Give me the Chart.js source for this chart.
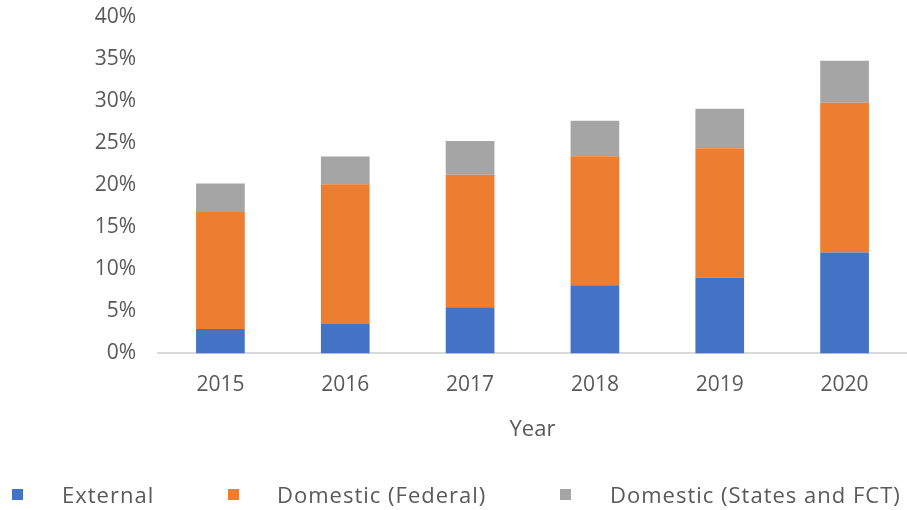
<!DOCTYPE html>
<html>
<head>
<meta charset="utf-8">
<script src="https://cdn.jsdelivr.net/npm/chart.js@4"></script>
<style>
  html, body { margin: 0; padding: 0; background: #fff; }
  #wrap { position: relative; width: 907px; height: 510px; }
  #legend { position: absolute; left: 0; top: 479px; width: 907px; height: 30px;
            font-family: "Open Sans", sans-serif; font-size: 22px; letter-spacing: 1px; color: #595959; }
  .item { position: absolute; top: 0; line-height: 30px; white-space: nowrap; }
  .box { position: absolute; top: 10px; width: 11px; height: 11px; }
</style>
</head>
<body>
<div id="wrap">
  <canvas id="chart" width="907" height="510"></canvas>
  <div id="legend"></div>
</div>
<script>
const years = ["2015", "2016", "2017", "2018", "2019", "2020"];
const external = [2.9, 3.5, 5.5, 8.1, 9.0, 12.0];
const domesticFederal = [13.9, 16.6, 15.75, 15.35, 15.4, 17.8];
const domesticStates = [3.4, 3.3, 4.0, 4.2, 4.7, 5.0];
const seriesNames = ["External", "Domestic (Federal)", "Domestic (States and FCT)"];
const colors = ["#4472C4", "#ED7D31", "#A5A5A5"];

const textColor = "#595959";
const font = { family: "Open Sans", size: 21 };

const ctx = document.getElementById("chart").getContext("2d");
new Chart(ctx, {
    type: "bar",
    data: {
        labels: years,
        datasets: [external, domesticFederal, domesticStates].map((d, i) => ({
            label: seriesNames[i],
            data: d,
            backgroundColor: colors[i],
            barPercentage: 0.39,
            categoryPercentage: 1
        }))
    },
    options: {
        responsive: false,
        animation: false,
        layout: { padding: { top: 17, right: 0, bottom: 67, left: 0 } },
        plugins: {
            legend: { display: false },
            tooltip: { enabled: false }
        },
        scales: {
            x: {
                stacked: true,
                grid: { display: false, drawTicks: false },
                border: { color: "#d9d9d9", width: 2 },
                ticks: { color: textColor, font: font, padding: 19 },
                title: { display: true, text: "Year", color: textColor, font: { family: "Open Sans", size: 22 },
                         padding: { top: 0, bottom: 0 } }
            },
            y: {
                stacked: true,
                min: 0,
                max: 40,
                grid: { display: false, drawTicks: false },
                border: { display: false },
                ticks: { stepSize: 5, color: textColor, font: font, padding: 22,
                         callback: v => v + "%" },
                afterFit: s => { s.width = 158; s.paddingTop = 0; s.paddingBottom = 0; }
            }
        }
    }
});

// legend drawn as html
const legendPos = [[12, 62], [228, 277], [560, 610]];
const legend = document.getElementById("legend");
seriesNames.forEach((name, i) => {
    const box = document.createElement("div");
    box.className = "box";
    box.style.left = legendPos[i][0] + "px";
    box.style.background = colors[i];
    legend.appendChild(box);
    const t = document.createElement("div");
    t.className = "item";
    t.style.left = legendPos[i][1] + "px";
    t.textContent = name;
    legend.appendChild(t);
});
</script>
</body>
</html>
